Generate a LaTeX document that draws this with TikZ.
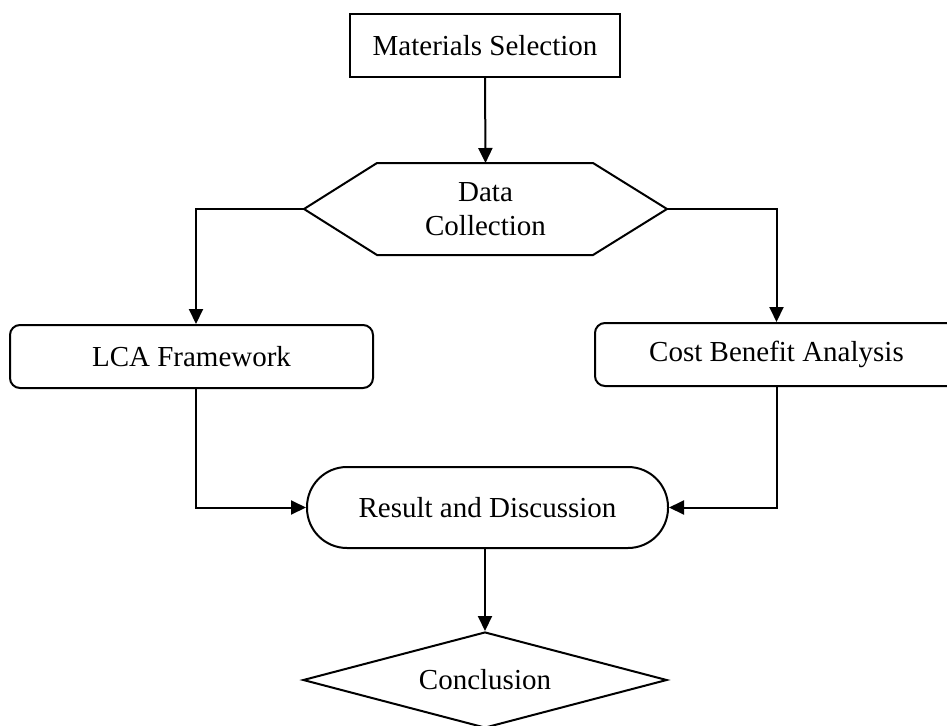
\documentclass[tikz,border=0pt]{standalone}
\usepackage{fontspec}
\setmainfont{Liberation Serif}
\usetikzlibrary{arrows.meta,shapes.geometric}
\begin{document}
\begin{tikzpicture}[x=1pt,y=-1pt,
  line width=2pt,
  lbl/.style={font=\fontsize{29}{34}\selectfont, align=center, inner sep=0pt},
  box/.style={lbl, draw, line width=2pt, minimum height=63pt},
  rbox/.style={box, rounded corners=10pt, minimum width=363pt},
  conn/.style={draw, line width=2pt, -{Triangle[length=15pt,width=14pt]}},
  outline/.style={draw, line width=2pt}]
\useasboundingbox (0,0) rectangle (947,725);
\clip (0,0) rectangle (947,725);
% Materials selection
\node[box, minimum width=270pt] (mat) at (485,45.5) {Materials Selection};
% Data collection hexagon
\coordinate (hexW) at (304,209);
\coordinate (hexE) at (667,209);
\coordinate (hexN) at (485.5,163);
\draw[outline, line join=miter] (hexW) -- (377,163) -- (593,163) -- (hexE) -- (593,255) -- (377,255) -- cycle;
\node[lbl] (dc) at (485.5,209) {Data\\Collection};
% LCA and CBA
\node[rbox] (lca) at (191.5,356.5) {LCA Framework};
\node[rbox] (cba) at (776.5,354.5) {Cost Benefit Analysis};
% Result
\node[box, rounded corners=40pt, minimum width=361pt, minimum height=81pt] (res) at (487.5,507.5) {Result and Discussion};
% Conclusion
\node[lbl, draw, line width=2pt, diamond, aspect=3.8, minimum width=364pt, minimum height=96pt] (con) at (485,680) {Conclusion};
% connectors
\draw[conn] (mat.south) -- (hexN);
\draw[conn] (hexW) -| ([xshift=4.5pt]lca.north);
\draw[conn] (hexE) -| (cba.north);
\draw[conn] ([xshift=4.5pt]lca.south) |- (res.west);
\draw[conn] (cba.south) |- (res.east);
\draw[conn] (res.south -| con.north) -- (con.north);
\end{tikzpicture}
\end{document}
